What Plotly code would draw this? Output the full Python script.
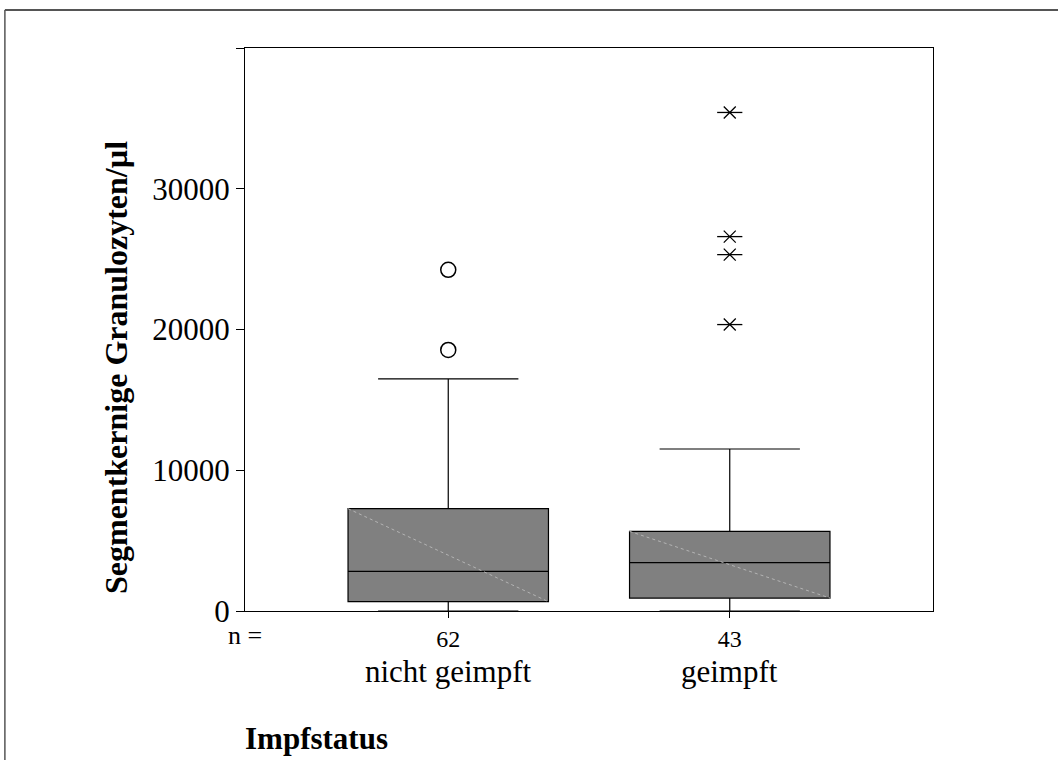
import plotly.graph_objects as go

# Segmented granulocytes per µl by vaccination status
groups = ["nicht geimpft", "geimpft"]
n_counts = [62, 43]
q1 = [660, 920]
median = [2820, 3430]
q3 = [7270, 5660]
lower_whisker = [0, 0]
upper_whisker = [16490, 11510]

# outliers (circles) and extreme values (stars)
outliers_nicht = [24240, 18550]
extremes_geimpft = [35420, 26600, 25320, 20350]

y_ticks = [0, 10000, 20000, 30000, 40000]
y_ticklabels = ["0", "10000", "20000", "30000", ""]

FONT = "Liberation Serif"
BOX_W = 0.712
pos = list(range(len(groups)))

fig = go.Figure()

for i, g in enumerate(groups):
    fig.add_trace(go.Box(
        x=[pos[i]], q1=[q1[i]], median=[median[i]], q3=[q3[i]],
        lowerfence=[lower_whisker[i]], upperfence=[upper_whisker[i]],
        width=BOX_W, whiskerwidth=0.7,
        fillcolor="#808080", line=dict(color="black", width=1.2),
        boxpoints=False, name=g, showlegend=False,
    ))
    # faint diagonal across the box body
    fig.add_shape(type="line", xref="x", yref="y",
                  x0=pos[i] - BOX_W / 2, y0=q3[i],
                  x1=pos[i] + BOX_W / 2, y1=q1[i],
                  line=dict(color="#b4b4b4", width=1, dash="dot"))

fig.add_trace(go.Scatter(
    x=[pos[0]] * len(outliers_nicht), y=outliers_nicht, mode="markers",
    marker=dict(symbol="circle-open", size=15, color="black",
                line=dict(width=1.5, color="black")),
    showlegend=False,
))
fig.add_trace(go.Scatter(
    x=[pos[1]] * len(extremes_geimpft), y=extremes_geimpft, mode="markers",
    marker=dict(symbol="line-ew-open", size=18, color="black",
                line=dict(width=1.3, color="black")),
    showlegend=False,
))
fig.add_trace(go.Scatter(
    x=[pos[1]] * len(extremes_geimpft), y=extremes_geimpft, mode="markers",
    marker=dict(symbol="x-thin-open", size=12, color="black",
                line=dict(width=1.3, color="black")),
    showlegend=False,
))

# group names under the counts
for i, g in enumerate(groups):
    fig.add_annotation(x=pos[i], xref="x", xanchor="center",
                       y=-0.107, yref="paper", yanchor="middle",
                       text=g, showarrow=False,
                       font=dict(family=FONT, size=31, color="black"))
fig.add_annotation(x=0, xref="paper", xanchor="center",
                   y=-0.0444, yref="paper", yanchor="middle", text="n =",
                   showarrow=False, font=dict(family=FONT, size=26, color="black"))
fig.add_annotation(x=-0.003, xref="paper", xanchor="left",
                   y=-0.2256, yref="paper", yanchor="middle",
                   text="<b>Impfstatus</b>", showarrow=False,
                   font=dict(family=FONT, size=31, color="black"))
fig.add_annotation(x=-0.1875, xref="paper", xanchor="center",
                   y=0.4316, yref="paper", yanchor="middle",
                   text="<b>Segmentkernige Granulozyten/µl</b>", textangle=-90,
                   showarrow=False, font=dict(family=FONT, size=32, color="black"))

# outer page frame
fig.add_shape(type="line", xref="paper", yref="paper",
              x0=-0.349, y0=1.0675, x1=1.1817, y1=1.0675,
              line=dict(color="#555555", width=2))
fig.add_shape(type="line", xref="paper", yref="paper",
              x0=-0.349, y0=1.0675, x1=-0.349, y1=-0.2647,
              line=dict(color="#555555", width=1.5))

fig.update_layout(
    width=1058, height=760,
    margin=dict(l=245, r=125, t=48, b=149),
    paper_bgcolor="white", plot_bgcolor="white",
    showlegend=False,
    font=dict(family=FONT, color="black"),
)
fig.update_xaxes(
    range=[-0.722, 1.722], tickvals=pos, ticktext=[str(n) for n in n_counts],
    ticks="outside", ticklen=6, tickcolor="black",
    tickfont=dict(family=FONT, size=24, color="black"),
    showline=True, linecolor="black", linewidth=1.2, mirror=True,
    showgrid=False, zeroline=False,
)
fig.update_yaxes(
    range=[0, 40000], tickvals=y_ticks, ticktext=y_ticklabels,
    ticks="outside", ticklen=8, tickcolor="black",
    tickfont=dict(family=FONT, size=31, color="black"),
    showline=True, linecolor="black", linewidth=1.2, mirror=True,
    showgrid=False, zeroline=False,
)

fig.write_html("out.html")
